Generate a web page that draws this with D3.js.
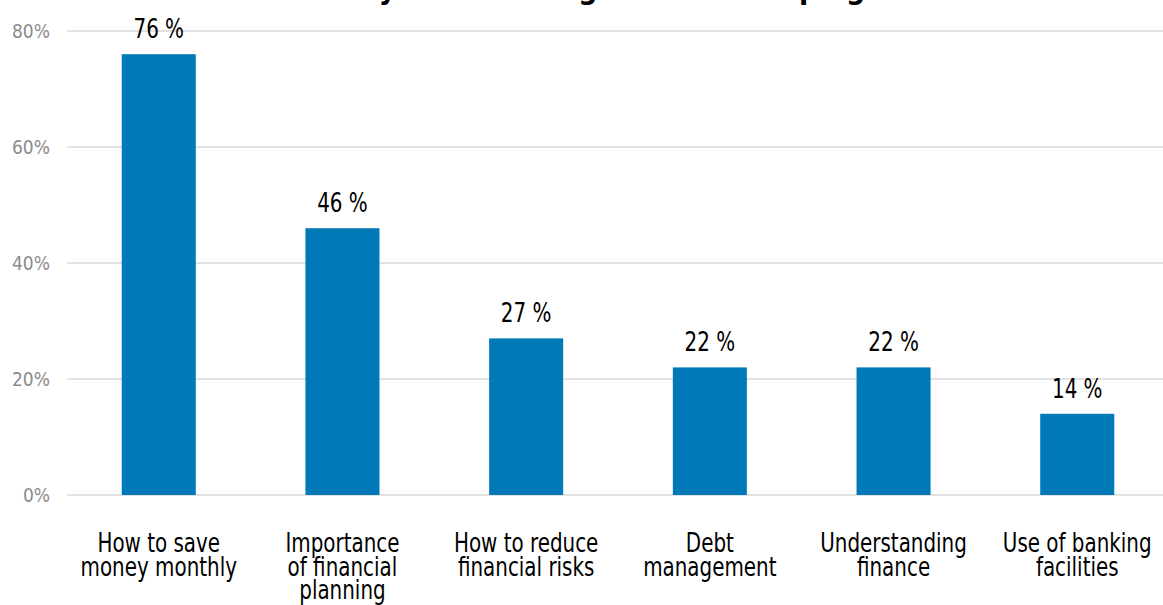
<!DOCTYPE html>
<html>
<head>
<meta charset="utf-8">
<script src="https://cdn.jsdelivr.net/npm/d3@7"></script>
<style>
  body { margin: 0; background: #fff; }
  #plot { width: 1163px; height: 605px; }
  text { font-family: "DejaVu Sans Condensed", "DejaVu Sans", sans-serif; }
</style>
</head>
<body>
<div id="plot"></div>
<script>
// chart data
const categories = [
    ["How to save", "money monthly"],
    ["Importance", "of financial", "planning"],
    ["How to reduce", "financial risks"],
    ["Debt", "management"],
    ["Understanding", "finance"],
    ["Use of banking", "facilities"]
];
const values = [76, 46, 27, 22, 22, 14];
const yTicks = [0, 20, 40, 60, 80];
const title = "Financial literacy themes taught in the campaign";

const width = 1163, height = 605;
const margin = { top: 31, right: 0, bottom: 110, left: 67 };
const squeeze = 0.82; // narrow the font to look condensed

const svg = d3.select("#plot").append("svg")
    .attr("width", width)
    .attr("height", height);

const x = d3.scaleBand()
    .domain(d3.range(values.length))
    .range([margin.left, 1169])
    .paddingInner(0.597)
    .paddingOuter(0.298);

const y = d3.scaleLinear()
    .domain([0, 80])
    .range([height - margin.bottom, margin.top]);

// title (mostly cut off above the view)
svg.append("text")
    .attr("x", 135)
    .attr("y", -1)
    .attr("font-size", 30)
    .attr("font-weight", "bold")
    .attr("fill", "#000")
    .text(title);

// grid lines
svg.append("g")
    .selectAll("line")
    .data(yTicks)
    .enter()
    .append("line")
    .attr("x1", margin.left)
    .attr("x2", width)
    .attr("y1", d => y(d))
    .attr("y2", d => y(d))
    .attr("stroke", "#d9d9d9")
    .attr("stroke-width", 1.5);

// y tick labels
svg.append("g")
    .selectAll("text")
    .data(yTicks)
    .enter()
    .append("text")
    .attr("x", 50)
    .attr("y", d => y(d))
    .attr("dy", "0.35em")
    .attr("text-anchor", "end")
    .attr("font-size", 19)
    .attr("fill", "#8c8c8c")
    .text(d => d + "%");

// bars
svg.append("g")
    .selectAll("rect")
    .data(values)
    .enter()
    .append("rect")
    .attr("x", (d, i) => x(i))
    .attr("y", d => y(d))
    .attr("width", x.bandwidth())
    .attr("height", d => y(0) - y(d))
    .attr("fill", "#0079b8");

// value labels
svg.append("g")
    .selectAll("text")
    .data(values)
    .enter()
    .append("text")
    .attr("transform", (d, i) => `translate(${x(i) + x.bandwidth() / 2},${y(d) - 16}) scale(${squeeze},1)`)
    .attr("text-anchor", "middle")
    .attr("font-size", 27)
    .attr("fill", "#000")
    .text(d => d + " %");

// category labels
const catLabels = svg.append("g")
    .selectAll("text")
    .data(categories)
    .enter()
    .append("text")
    .attr("transform", (d, i) => `translate(${x(i) + x.bandwidth() / 2},552) scale(${squeeze},1)`)
    .attr("text-anchor", "middle")
    .attr("font-size", 27)
    .attr("fill", "#000");

catLabels.selectAll("tspan")
    .data(d => d)
    .enter()
    .append("tspan")
    .attr("x", 0)
    .attr("dy", (d, i) => i === 0 ? 0 : 23.5)
    .text(d => d);
</script>
</body>
</html>
